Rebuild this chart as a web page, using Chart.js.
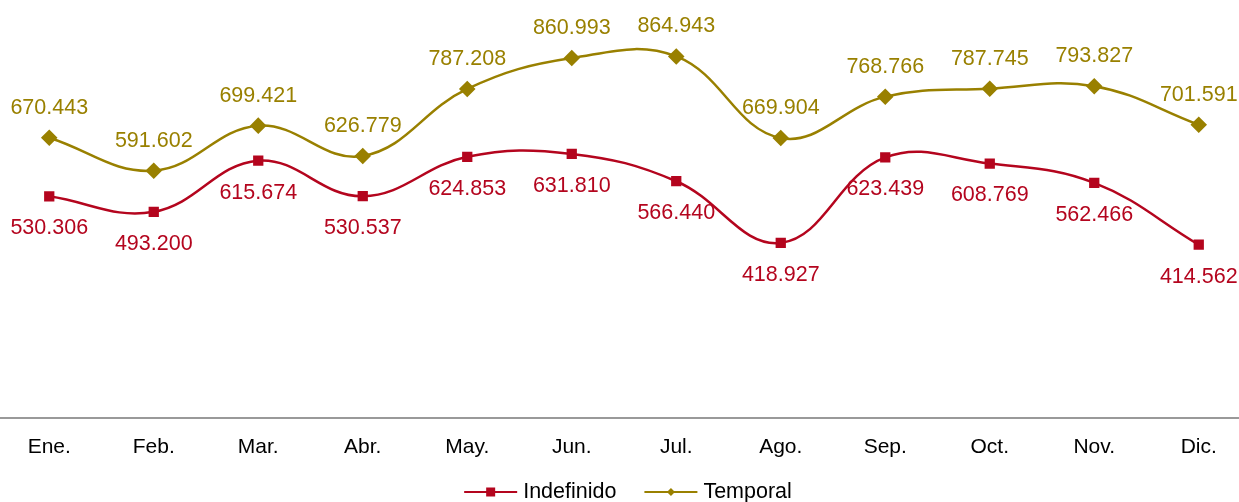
<!DOCTYPE html>
<html>
<head>
<meta charset="utf-8">
<script src="https://cdn.jsdelivr.net/npm/chart.js@4/dist/chart.umd.min.js"></script>
<style>
  html, body { margin: 0; padding: 0; background: #fff; overflow: hidden; }
  /* plot runs a little past both page edges, like the original */
  #wrap { width: 1254px; height: 502px; position: relative; margin-left: -3px; }
</style>
</head>
<body>
<div id="wrap"><canvas id="chart"></canvas></div>
<script>
// meses y valores
const months = ["Ene.", "Feb.", "Mar.", "Abr.", "May.", "Jun.", "Jul.", "Ago.", "Sep.", "Oct.", "Nov.", "Dic."];
const indefinido = [530306, 493200, 615674, 530537, 624853, 631810, 566440, 418927, 623439, 608769, 562466, 414562];
const temporal = [670443, 591602, 699421, 626779, 787208, 860993, 864943, 669904, 768766, 787745, 793827, 701591];

const RED = "rgb(180, 5, 30)";
const OLIVE = "rgb(153, 128, 0)";
const FONT = "Liberation Sans, Arial, sans-serif";

function fmt(n)
{
    return String(n).replace(/\B(?=(\d{3})+(?!\d))/g, ".");
}

// data labels: Indefinido below, Temporal above (drawn under the lines)
const valueLabels = {
    id: "valueLabels",
    beforeDatasetsDraw(chart)
    {
        const ctx = chart.ctx;
        ctx.save();
        ctx.font = "21.5px " + FONT;
        ctx.textAlign = "center";
        ctx.textBaseline = "middle";
        chart.data.datasets.forEach((ds, i) => {
            const meta = chart.getDatasetMeta(i);
            ctx.fillStyle = ds.borderColor;
            meta.data.forEach((pt, j) => {
                const dy = i === 0 ? 32 : -30;
                ctx.fillText(fmt(ds.data[j]), pt.x, pt.y + dy);
            });
        });
        ctx.restore();
    }
};

// legend drawn by hand: line with marker, then the name
const lineLegend = {
    id: "lineLegend",
    afterDraw(chart)
    {
        const ctx = chart.ctx;
        ctx.save();
        ctx.font = "21.5px " + FONT;
        ctx.textBaseline = "middle";
        const y = 492;
        const lineW = 53, gapText = 6, gapItem = 28;
        const items = chart.data.datasets.map(ds => ({
            ds: ds,
            w: lineW + gapText + ctx.measureText(ds.label).width
        }));
        const total = items.reduce((s, it) => s + it.w, 0) + gapItem * (items.length - 1);
        let x = 631 - total / 2;
        items.forEach(it => {
            const color = it.ds.borderColor;
            ctx.strokeStyle = color;
            ctx.fillStyle = color;
            ctx.lineWidth = 2;
            ctx.beginPath(); ctx.moveTo(x, y); ctx.lineTo(x + lineW, y); ctx.stroke();
            const cx = x + lineW / 2;
            if (it.ds.pointStyle === "rect") {
                ctx.fillRect(cx - 4.5, y - 4.5, 9, 9);
            } else {
                ctx.beginPath();
                ctx.moveTo(cx, y - 4); ctx.lineTo(cx + 4, y); ctx.lineTo(cx, y + 4); ctx.lineTo(cx - 4, y);
                ctx.closePath(); ctx.fill();
            }
            ctx.fillStyle = "#000";
            ctx.fillText(it.ds.label, x + lineW + gapText, y);
            x += it.w + gapItem;
        });
        ctx.restore();
    }
};

const ctx_chart = document.getElementById("chart").getContext("2d");
const chart = new Chart(ctx_chart, {
    type: "line",
    data: {
        labels: months,
        datasets: [
            {
                label: "Indefinido",
                data: indefinido,
                borderColor: RED,
                backgroundColor: RED,
                borderWidth: 2.5,
                pointStyle: "rect",
                pointRadius: 5.5,
                tension: 0.4
            },
            {
                label: "Temporal",
                data: temporal,
                borderColor: OLIVE,
                backgroundColor: OLIVE,
                borderWidth: 2.5,
                pointStyle: "rectRot",
                pointRadius: 6.5,
                tension: 0.4
            }
        ]
    },
    options: {
        responsive: true,
        maintainAspectRatio: false,
        animation: false,
        layout: { autoPadding: false, padding: 0 },
        plugins: {
            tooltip: { enabled: false },
            legend: { display: false }
        },
        scales: {
            x: {
                offset: true,
                grid: { display: false, drawTicks: false },
                border: { color: "#999", width: 2 },
                ticks: {
                    color: "#000",
                    padding: 17,
                    font: { family: FONT, size: 21 }
                },
                afterFit(scale) { scale.height = 84; }
            },
            y: {
                display: false,
                min: 0,
                max: 1000000
            }
        }
    },
    plugins: [valueLabels, lineLegend]
});
</script>
</body>
</html>
